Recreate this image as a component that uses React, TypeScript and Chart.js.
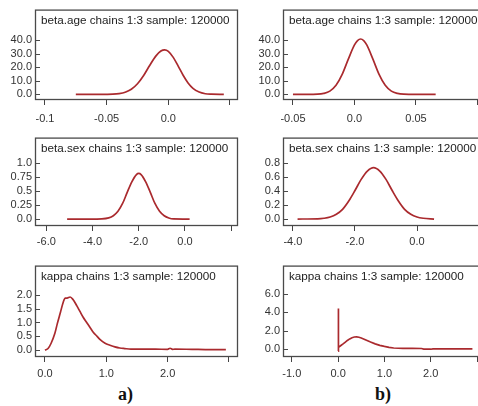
import React, { useEffect, useRef } from "react";
import { Chart, registerables } from "chart.js";

Chart.register(...registerables);

// ---------- titles ----------
const titleAge = "beta.age chains 1:3 sample: 120000";
const titleSex = "beta.sex chains 1:3 sample: 120000";
const titleKappa = "kappa chains 1:3 sample: 120000";

// ---------- (a) beta.age ----------
const ageAX = [-0.075, -0.06, -0.05, -0.045, -0.04, -0.035, -0.03, -0.025, -0.02, -0.015, -0.01, -0.006, -0.003, 0.0, 0.004, 0.008, 0.012, 0.016, 0.02, 0.025, 0.03, 0.035, 0.045];
const ageAY = [0.0, 0.0, 0.05, 0.18, 0.6, 1.6, 3.8, 7.9, 14.0, 21.6, 28.5, 32.1, 33.0, 31.9, 27.4, 20.9, 14.2, 8.5, 4.5, 1.7, 0.5, 0.15, 0.0];

// ---------- (b) beta.age ----------
const ageBX = [-0.05, -0.04, -0.03, -0.025, -0.02, -0.015, -0.01, -0.005, 0.0, 0.0025, 0.005, 0.0075, 0.01, 0.015, 0.02, 0.025, 0.03, 0.035, 0.04, 0.05, 0.066];
const ageBY = [0.0, 0.02, 0.16, 0.7, 2.4, 6.7, 14.8, 26.1, 36.6, 39.8, 41.0, 39.8, 36.6, 26.1, 14.8, 6.7, 2.4, 0.7, 0.16, 0.0, 0.0];

// ---------- (a) beta.sex ----------
const sexAX = [-5.1, -4.1, -3.6, -3.3, -3.1, -2.9, -2.7, -2.5, -2.3, -2.1, -2.0, -1.9, -1.7, -1.5, -1.3, -1.1, -0.9, -0.7, -0.5, 0.2];
const sexAY = [0.0, 0.0, 0.003, 0.02, 0.06, 0.14, 0.28, 0.48, 0.67, 0.8, 0.82, 0.8, 0.67, 0.48, 0.28, 0.14, 0.06, 0.02, 0.003, 0.0];

// ---------- (b) beta.sex ----------
const sexBX = [-3.85, -3.2, -3.0, -2.8, -2.6, -2.4, -2.2, -2.0, -1.8, -1.6, -1.4, -1.2, -1.0, -0.8, -0.6, -0.4, -0.2, 0.0, 0.2, 0.55];
const sexBY = [0.0, 0.003, 0.011, 0.029, 0.069, 0.14, 0.26, 0.41, 0.57, 0.69, 0.74, 0.69, 0.57, 0.41, 0.26, 0.14, 0.069, 0.029, 0.011, 0.0];

// ---------- (a) kappa ----------
const kapAX = [0.0, 0.05, 0.1, 0.16, 0.2, 0.25, 0.3, 0.33, 0.36, 0.41, 0.46, 0.52, 0.57, 0.62, 0.68, 0.74, 0.79, 0.85, 0.9, 0.98, 1.06, 1.14, 1.22, 1.3, 1.4, 1.6, 1.8, 2.0, 2.04, 2.08, 2.12, 2.4, 2.7, 2.95];
const kapAY = [0.0, 0.06, 0.25, 0.6, 0.95, 1.35, 1.75, 1.88, 1.88, 1.92, 1.82, 1.6, 1.4, 1.2, 1.0, 0.8, 0.64, 0.5, 0.38, 0.25, 0.18, 0.12, 0.08, 0.06, 0.04, 0.04, 0.04, 0.03, 0.07, 0.03, 0.04, 0.03, 0.02, 0.02];

// ---------- (b) kappa ----------
const kapBX = [0.0, 0.001, 0.005, 0.01, 0.012, 0.02, 0.06, 0.1, 0.15, 0.2, 0.25, 0.3, 0.35, 0.4, 0.45, 0.5, 0.6, 0.7, 0.8, 0.9, 1.0, 1.1, 1.2, 1.4, 1.6, 1.8, 1.85, 1.9, 2.0, 2.05, 2.3, 2.6, 2.9];
const kapBY = [-0.2, 4.4, 0.3, 3.8, 0.3, 0.25, 0.4, 0.55, 0.75, 0.95, 1.12, 1.25, 1.32, 1.34, 1.3, 1.22, 1.0, 0.78, 0.58, 0.42, 0.3, 0.2, 0.13, 0.1, 0.09, 0.08, 0.02, 0.0, 0.0, 0.04, 0.04, 0.03, 0.03];

// ---------- ticks ----------
const xTicksAgeA = [-0.1, -0.05, 0.0, 0.05];
const xLabelsAgeA = ["-0.1", "-0.05", "0.0", ""];
const xTicksAgeB = [-0.05, 0.0, 0.05, 0.1];
const xLabelsAgeB = ["-0.05", "0.0", "0.05", ""];
const yTicksAge = [0, 10, 20, 30, 40];
const yLabelsAge = ["0.0", "10.0", "20.0", "30.0", "40.0"];

const xTicksSexA = [-6, -4, -2, 0, 2];
const xLabelsSexA = ["-6.0", "-4.0", "-2.0", "0.0", ""];
const xTicksSexB = [-4, -2, 0, 2];
const xLabelsSexB = ["-4.0", "-2.0", "0.0", ""];
const yTicksSexA = [0, 0.25, 0.5, 0.75, 1.0];
const yLabelsSexA = ["0.0", "0.25", "0.5", "0.75", "1.0"];
const yTicksSexB = [0, 0.2, 0.4, 0.6, 0.8];
const yLabelsSexB = ["0.0", "0.2", "0.4", "0.6", "0.8"];

const xTicksKapA = [0, 1, 2, 3];
const xLabelsKapA = ["0.0", "1.0", "2.0", ""];
const xTicksKapB = [-1, 0, 1, 2, 3];
const xLabelsKapB = ["-1.0", "0.0", "1.0", "2.0", ""];
const yTicksKapA = [0, 0.5, 1.0, 1.5, 2.0];
const yLabelsKapA = ["0.0", "0.5", "1.0", "1.5", "2.0"];
const yTicksKapB = [0, 2, 4, 6];
const yLabelsKapB = ["0.0", "2.0", "4.0", "6.0"];

const FONT = '"Liberation Sans", Arial, sans-serif';
const LINE = "#aa2a2e";

type PanelProps = {
  title: string;
  xs: number[];
  ys: number[];
  xMin: number; xMax: number; xTicks: number[]; xLabels: string[];
  yMin: number; yMax: number; yTicks: number[]; yLabels: string[];
  left: number; top: number; w: number; h: number;
  yAxisW: number; xAxisH: number; padTop: number; padRight: number; xPad: number;
  tension: number; mono: boolean;
};

function Panel(p: PanelProps) {
  const ref = useRef<HTMLCanvasElement>(null);
  useEffect(() => {
    if (!ref.current) return;
    const framePlugin = {
      id: "frameTitle",
      afterDraw(chart: any) {
        const ctx = chart.ctx;
        const ca = chart.chartArea;
        const ys = chart.scales.y;
        ctx.save();
        ctx.strokeStyle = "#4a4a4a";
        ctx.lineWidth = 1.3;
        ctx.strokeRect(ca.left + 0.5, ca.top + 0.5, ca.right - ca.left - 1, ca.bottom - ca.top - 1);
        ctx.lineWidth = 1;
        ctx.beginPath();
        for (const v of p.yTicks) {
          const py = Math.round(ys.getPixelForValue(v)) + 0.5;
          ctx.moveTo(ca.left, py);
          ctx.lineTo(ca.left + 5, py);
        }
        ctx.stroke();
        ctx.fillStyle = "#222";
        ctx.font = "11.7px " + FONT;
        ctx.textBaseline = "middle";
        ctx.textAlign = "left";
        ctx.fillText(p.title, ca.left + 6, ca.top + 11);
        ctx.restore();
      },
    };
    const chart = new Chart(ref.current, {
      type: "scatter",
      data: {
        datasets: [
          {
            data: p.xs.map((x, i) => ({ x, y: p.ys[i] })),
            showLine: true,
            borderColor: LINE,
            backgroundColor: LINE,
            borderWidth: 1.7,
            pointRadius: 0,
            tension: p.tension,
            cubicInterpolationMode: p.mono ? "monotone" : "default",
            fill: false,
          } as any,
        ],
      },
      options: {
        responsive: false,
        animation: false,
        devicePixelRatio: 1,
        layout: { padding: { top: p.padTop, right: p.padRight, left: 0, bottom: 0 } },
        plugins: { legend: { display: false }, tooltip: { enabled: false }, title: { display: false } },
        scales: {
          x: {
            type: "linear",
            min: p.xMin,
            max: p.xMax,
            afterBuildTicks: (s: any) => { s.ticks = p.xTicks.map((v) => ({ value: v })); },
            afterFit: (s: any) => { s.height = p.xAxisH; },
            ticks: {
              autoSkip: false, maxRotation: 0, minRotation: 0, padding: p.xPad, color: "#333",
              font: { family: FONT, size: 11 },
              callback: (_v: any, i: number) => p.xLabels[i],
            },
            grid: { drawOnChartArea: false, drawTicks: true, tickLength: 5, color: "#444", lineWidth: 1 },
            border: { display: false },
          },
          y: {
            type: "linear",
            min: p.yMin,
            max: p.yMax,
            afterBuildTicks: (s: any) => { s.ticks = p.yTicks.map((v) => ({ value: v })); },
            afterFit: (s: any) => { s.width = p.yAxisW; },
            ticks: {
              autoSkip: false, padding: 3, color: "#333",
              font: { family: FONT, size: 11 },
              callback: (_v: any, i: number) => p.yLabels[i],
            },
            grid: { display: false, drawTicks: false, drawOnChartArea: false },
            border: { display: false },
          },
        },
      } as any,
      plugins: [framePlugin],
    });
    return () => chart.destroy();
  }, []);
  return (
    <canvas
      ref={ref}
      width={p.w}
      height={p.h}
      style={{ position: "absolute", left: p.left, top: p.top, width: p.w, height: p.h }}
    />
  );
}

const colA = { left: 0, w: 240, yAxisW: 35, padRight: 2 };
const colB = { left: 240, w: 250, yAxisW: 43, padRight: 6 };
const row1 = { top: 0, h: 128, padTop: 8, xAxisH: 28, xPad: 7 };
const row2 = { top: 128, h: 128, padTop: 9, xAxisH: 30, xPad: 4 };
const row3 = { top: 256, h: 124, padTop: 7, xAxisH: 23, xPad: 5 };

export default function App() {
  return (
    <div style={{ position: "fixed", left: 0, top: 0, width: 478, height: 406, overflow: "hidden", background: "#fff" }}>
      <Panel {...colA} {...row1} title={titleAge} xs={ageAX} ys={ageAY}
        xMin={-0.1081} xMax={0.0565} xTicks={xTicksAgeA} xLabels={xLabelsAgeA}
        yMin={-4.15} yMax={62.76} yTicks={yTicksAge} yLabels={yLabelsAge} tension={0} mono={true} />
      <Panel {...colB} {...row1} title={titleAge} xs={ageBX} ys={ageBY}
        xMin={-0.0581} xMax={0.1053} xTicks={xTicksAgeB} xLabels={xLabelsAgeB}
        yMin={-4.15} yMax={62.76} yTicks={yTicksAge} yLabels={yLabelsAge} tension={0} mono={true} />
      <Panel {...colA} {...row2} title={titleSex} xs={sexAX} ys={sexAY}
        xMin={-6.49} xMax={2.294} xTicks={xTicksSexA} xLabels={xLabelsSexA}
        yMin={-0.125} yMax={1.464} yTicks={yTicksSexA} yLabels={yLabelsSexA} tension={0} mono={true} />
      <Panel {...colB} {...row2} title={titleSex} xs={sexBX} ys={sexBY}
        xMin={-4.32} xMax={2.16} xTicks={xTicksSexB} xLabels={xLabelsSexB}
        yMin={-0.1} yMax={1.171} yTicks={yTicksSexB} yLabels={yLabelsSexB} tension={0} mono={true} />
      <Panel {...colA} {...row3} title={titleKappa} xs={kapAX} ys={kapAY}
        xMin={-0.163} xMax={3.148} xTicks={xTicksKapA} xLabels={xLabelsKapA}
        yMin={-0.2456} yMax={3.053} yTicks={yTicksKapA} yLabels={yLabelsKapA} tension={0} mono={true} />
      <Panel {...colB} {...row3} title={titleKappa} xs={kapBX} ys={kapBY}
        xMin={-1.19} xMax={3.15} xTicks={xTicksKapB} xLabels={xLabelsKapB}
        yMin={-0.842} yMax={9.05} yTicks={yTicksKapB} yLabels={yLabelsKapB} tension={0} mono={false} />
      <div style={{ position: "absolute", left: 118, top: 384, font: 'bold 18px "Liberation Serif", "Times New Roman", serif', color: "#111" }}>a)</div>
      <div style={{ position: "absolute", left: 375, top: 384, font: 'bold 18px "Liberation Serif", "Times New Roman", serif', color: "#111" }}>b)</div>
    </div>
  );
}
